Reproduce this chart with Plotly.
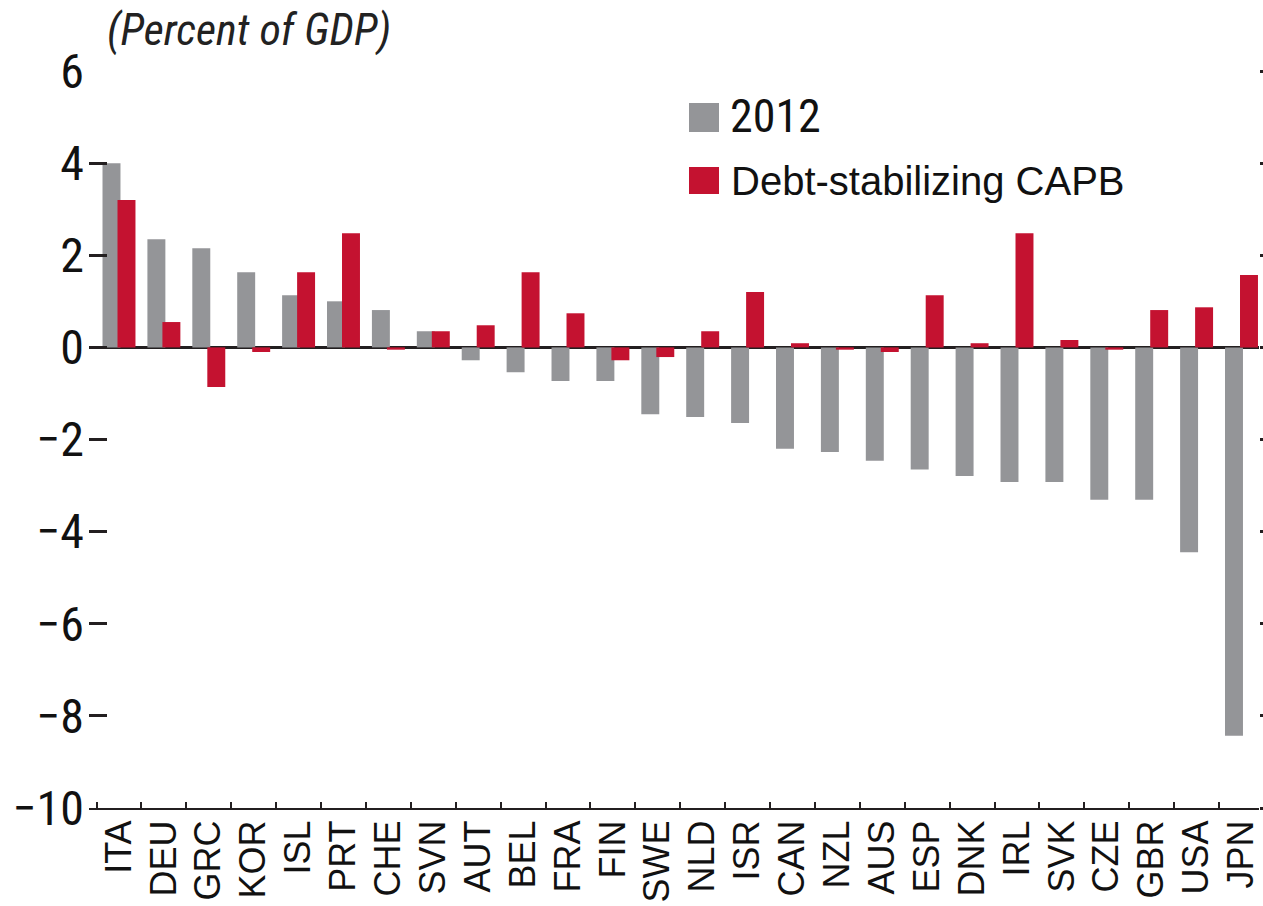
import plotly.graph_objects as go

countries = ["ITA", "DEU", "GRC", "KOR", "ISL", "PRT", "CHE", "SVN", "AUT", "BEL",
             "FRA", "FIN", "SWE", "NLD", "ISR", "CAN", "NZL", "AUS", "ESP", "DNK",
             "IRL", "SVK", "CZE", "GBR", "USA", "JPN"]
capb_2012 = [4.0, 2.35, 2.15, 1.63, 1.13, 1.0, 0.81, 0.35, -0.28, -0.54,
             -0.73, -0.73, -1.45, -1.51, -1.64, -2.2, -2.27, -2.46, -2.65, -2.79,
             -2.92, -2.92, -3.31, -3.31, -4.45, -8.43]
debt_stab = [3.2, 0.55, -0.86, -0.1, 1.63, 2.48, -0.05, 0.35, 0.48, 1.63,
             0.74, -0.28, -0.21, 0.35, 1.2, 0.09, -0.05, -0.1, 1.13, 0.09,
             2.48, 0.16, -0.05, 0.81, 0.87, 1.57]
y_ticks = [6, 4, 2, 0, -2, -4, -6, -8, -10]
series_names = ["2012", "Debt-stabilizing CAPB"]

GRAY = "#949598"
RED = "#C41230"
INK = "#231F20"
NARROW = "Liberation Sans Narrow, Arial Narrow, Roboto Condensed, Liberation Sans, sans-serif"
REG = "Liberation Sans, Arial, Helvetica, sans-serif"

fig = go.Figure()
fig.add_trace(go.Bar(x=countries, y=capb_2012, name=series_names[0],
                     marker=dict(color=GRAY, line=dict(width=0)),
                     width=0.40, offset=-0.367, showlegend=False))
fig.add_trace(go.Bar(x=countries, y=debt_stab, name=series_names[1],
                     marker=dict(color=RED, line=dict(width=0)),
                     width=0.40, offset=-0.033, showlegend=False, yaxis="y2"))

W, H = 1263, 906
L, R, T, B = 89, 4, 71, 98
pw, ph = W - L - R, H - T - B

def px_x(p):
    return (p - L) / pw

def px_y(p):
    return 1 - (p - T) / ph

fig.update_layout(
    width=W, height=H,
    margin=dict(l=L, r=R, t=T, b=B, autoexpand=False),
    paper_bgcolor="white", plot_bgcolor="white",
    barmode="overlay",
    showlegend=False,
    xaxis=dict(type="category", range=[-0.668, 25.39], automargin=False,
               showline=True, linecolor=INK, linewidth=2,
               ticks="inside", tickson="boundaries", ticklen=6, tickwidth=2,
               tickcolor=INK, tickangle=-90, showgrid=False, zeroline=False,
               tickfont=dict(family=REG, size=36, color="#111111"),
               ticklabelstandoff=-4),
    yaxis=dict(range=[-10, 6], tickvals=y_ticks, automargin=False,
               showline=False, ticks="inside", ticklen=18, tickwidth=2.5,
               tickcolor=INK, showgrid=False,
               zeroline=True, zerolinecolor=INK, zerolinewidth=3,
               tickfont=dict(family=NARROW, size=48, color="#111111"),
               ticklabelstandoff=4),
    yaxis2=dict(range=[-10, 6], tickvals=y_ticks, overlaying="y", side="right",
                automargin=False,
                showline=False, ticks="outside", ticklen=5, tickwidth=2.5,
                tickcolor=INK, showticklabels=False, showgrid=False,
                zeroline=False),
)

# title
fig.add_annotation(text="(Percent of GDP)", xref="paper", yref="paper",
                   x=px_x(105), y=px_y(30), xanchor="left", yanchor="middle",
                   showarrow=False,
                   font=dict(family=NARROW, size=44, style="italic", color="#222222"))

# legend swatches and labels
fig.add_shape(type="rect", xref="paper", yref="paper",
              x0=px_x(689), x1=px_x(719), y0=px_y(132), y1=px_y(103),
              fillcolor=GRAY, line=dict(width=0))
fig.add_shape(type="rect", xref="paper", yref="paper",
              x0=px_x(689), x1=px_x(719), y0=px_y(194), y1=px_y(167),
              fillcolor=RED, line=dict(width=0))
fig.add_annotation(text=series_names[0], xref="paper", yref="paper",
                   x=px_x(728), y=px_y(116), xanchor="left", yanchor="middle",
                   showarrow=False, font=dict(family=NARROW, size=46, color="#111111"))
fig.add_annotation(text=series_names[1], xref="paper", yref="paper",
                   x=px_x(729), y=px_y(181), xanchor="left", yanchor="middle",
                   showarrow=False, font=dict(family=REG, size=40, color="#111111"))

fig.write_html("out.html",
               config={"displayModeBar": False},
               post_script="document.body.style.margin='0';document.body.style.overflow='hidden';")
